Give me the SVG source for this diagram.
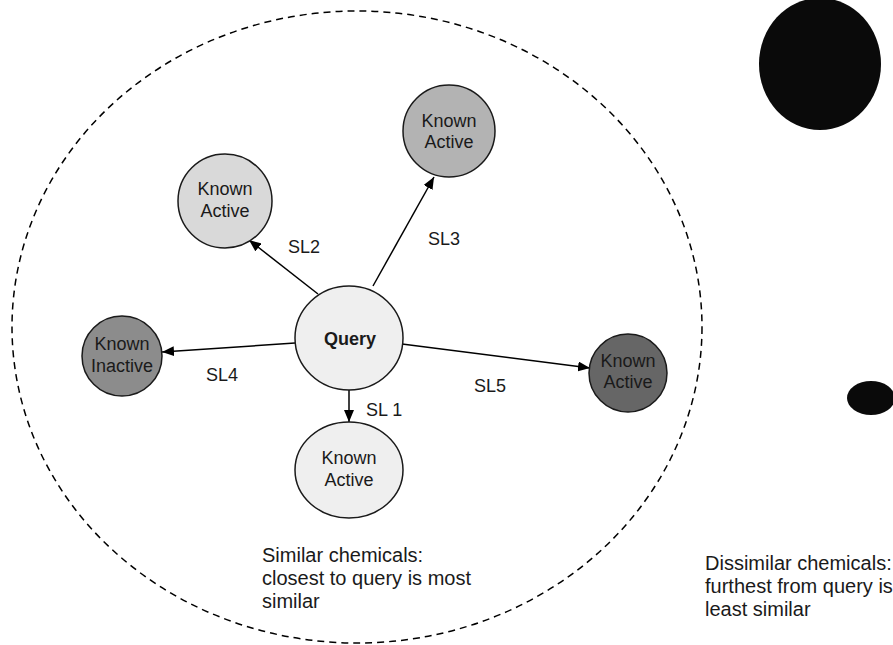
<svg xmlns="http://www.w3.org/2000/svg" width="893" height="645" viewBox="0 0 893 645">
  <defs>
    <marker id="arrow" viewBox="0 0 12 10" refX="12" refY="5" markerWidth="12" markerHeight="10" markerUnits="userSpaceOnUse" orient="auto">
      <path d="M0,0 L12,5 L0,10 z" fill="#000"/>
    </marker>
  </defs>
  <style>
    .node { stroke: #1a1a1a; stroke-width: 1.5; }
    .lbl { font-family: "Liberation Sans", Arial, sans-serif; font-size: 18px; fill: #1a1a1a; text-anchor: middle; }
    .edge { stroke: #000; stroke-width: 1.5; fill: none; marker-end: url(#arrow); }
    .sl { font-family: "Liberation Sans", Arial, sans-serif; font-size: 18px; fill: #1a1a1a; }
    .note { font-family: "Liberation Sans", Arial, sans-serif; font-size: 20px; fill: #1a1a1a; }
  </style>
  <rect width="893" height="645" fill="#fff"/>

  <!-- similarity boundary -->
  <ellipse id="boundary" cx="357" cy="327" rx="345" ry="316" fill="none" stroke="#000" stroke-width="1.5" stroke-dasharray="7,5"/>

  <!-- dissimilar chemicals -->
  <ellipse id="far-large" cx="820" cy="64" rx="61" ry="66" fill="#0a0a0a"/>
  <ellipse id="far-small" cx="871" cy="398" rx="24" ry="17" fill="#0a0a0a"/>

  <g id="connectors">
    <line class="edge" x1="318" y1="294" x2="249" y2="240"/>
    <line class="edge" x1="373" y1="286" x2="434" y2="177"/>
    <line class="edge" x1="295" y1="343" x2="162" y2="352"/>
    <line class="edge" x1="402" y1="344" x2="590" y2="368"/>
    <line class="edge" x1="349" y1="390" x2="349" y2="422"/>
    <text class="sl" x="288" y="253">SL2</text>
    <text class="sl" x="428" y="245">SL3</text>
    <text class="sl" x="206" y="381">SL4</text>
    <text class="sl" x="474" y="392">SL5</text>
    <text class="sl" x="366" y="416">SL 1</text>
  </g>

  <g id="query">
    <ellipse class="node" cx="349" cy="338" rx="54" ry="52" fill="#efefef"/>
    <text class="lbl" x="350" y="345" font-weight="bold">Query</text>
  </g>

  <g id="active-sl2">
    <circle class="node" cx="225" cy="201" r="47" fill="#d9d9d9"/>
    <text class="lbl" x="225" y="195">Known</text>
    <text class="lbl" x="225" y="217">Active</text>
  </g>

  <g id="active-sl3">
    <circle class="node" cx="449" cy="131" r="46" fill="#b3b3b3"/>
    <text class="lbl" x="449" y="127">Known</text>
    <text class="lbl" x="449" y="148">Active</text>
  </g>

  <g id="inactive-sl4">
    <circle class="node" cx="122" cy="356" r="40" fill="#8c8c8c"/>
    <text class="lbl" x="122" y="350">Known</text>
    <text class="lbl" x="122" y="372">Inactive</text>
  </g>

  <g id="active-sl5">
    <circle class="node" cx="628" cy="373" r="39" fill="#666666"/>
    <text class="lbl" x="628" y="367">Known</text>
    <text class="lbl" x="628" y="388">Active</text>
  </g>

  <g id="active-sl1">
    <ellipse class="node" cx="349" cy="470" rx="54" ry="48" fill="#efefef"/>
    <text class="lbl" x="349" y="464">Known</text>
    <text class="lbl" x="349" y="486">Active</text>
  </g>

  <text class="note" x="262" y="562">Similar chemicals:</text>
  <text class="note" x="262" y="585">closest to query is most</text>
  <text class="note" x="262" y="608">similar</text>

  <text class="note" x="705" y="570">Dissimilar chemicals:</text>
  <text class="note" x="705" y="593">furthest from query is</text>
  <text class="note" x="705" y="616">least similar</text>
</svg>
